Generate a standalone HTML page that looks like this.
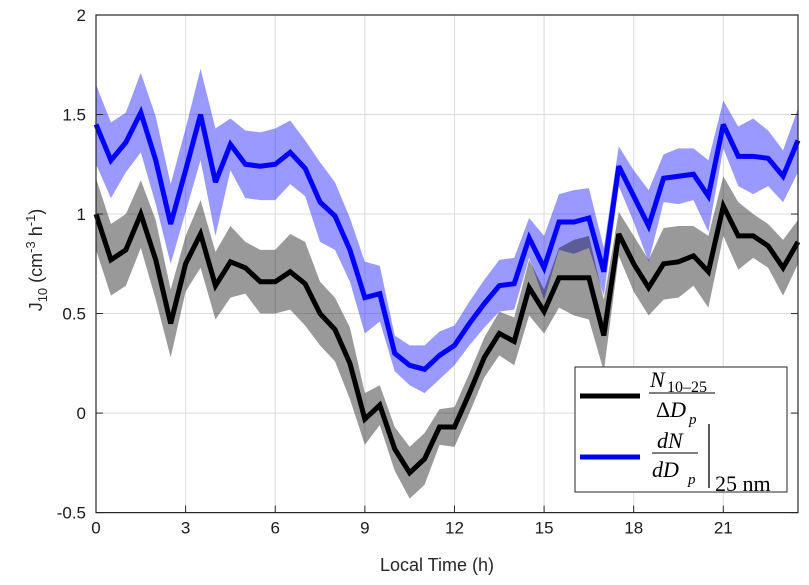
<!DOCTYPE html>
<html><head><meta charset="utf-8"><style>
body{margin:0;background:#fff;}
svg{display:block;font-family:"Liberation Sans",sans-serif;}
</style></head><body>
<svg id="chart" width="809" height="585">
<g id="grid"></g>
<g id="bands"></g>
<g id="lines"></g>
<g id="axes"></g>
<text x="437" y="571" font-size="18" text-anchor="middle" fill="#262626">Local Time (h)</text>
<text transform="translate(42,260) rotate(-90)" font-size="18" text-anchor="middle" fill="#262626">J<tspan font-size="13" dy="5">10</tspan><tspan dy="-5"> (cm</tspan><tspan font-size="13" dy="-7">-3</tspan><tspan dy="7"> h</tspan><tspan font-size="13" dy="-7">-1</tspan><tspan dy="7">)</tspan></text>
<g>
<rect x="575" y="367" width="212" height="125" fill="#fff" stroke="#262626" stroke-width="1"/>
<line x1="580" y1="396" x2="640" y2="396" stroke="#000" stroke-width="5"/>
<g font-family="'Liberation Serif',serif" fill="#000">
<text x="650" y="387" font-size="22" font-style="italic">N</text><text x="667" y="392" font-size="16">10–25</text>
<line x1="649" y1="393" x2="715" y2="393" stroke="#000" stroke-width="1"/>
<text x="656" y="417" font-size="22">Δ<tspan font-style="italic">D</tspan></text><text x="689" y="424" font-size="15" font-style="italic">p</text>
</g>
<line x1="580" y1="457" x2="640" y2="457" stroke="#0000ff" stroke-width="5"/>
<g font-family="'Liberation Serif',serif" fill="#000">
<text x="657" y="448" font-size="22" font-style="italic">dN</text>
<line x1="652" y1="453" x2="698" y2="453" stroke="#000" stroke-width="1"/>
<text x="652" y="477" font-size="22" font-style="italic">dD</text><text x="688" y="484" font-size="15" font-style="italic">p</text>
<line x1="709" y1="424" x2="709" y2="488" stroke="#000" stroke-width="1.3"/>
<text x="715" y="491" font-size="22">25 nm</text>
</g>
</g>
</svg>
<script>
const hours=[0,0.5,1,1.5,2,2.5,3,3.5,4,4.5,5,5.5,6,6.5,7,7.5,8,8.5,9,9.5,10,10.5,11,11.5,12,12.5,13,13.5,14,14.5,15,15.5,16,16.5,17,17.5,18,18.5,19,19.5,20,20.5,21,21.5,22,22.5,23,23.5];
const nSeries=[1.00,0.77,0.82,1.00,0.77,0.45,0.75,0.90,0.64,0.76,0.73,0.66,0.66,0.71,0.65,0.50,0.42,0.25,-0.03,0.04,-0.18,-0.30,-0.23,-0.07,-0.07,0.10,0.28,0.40,0.36,0.63,0.51,0.68,0.68,0.68,0.39,0.90,0.75,0.63,0.75,0.76,0.79,0.71,1.04,0.89,0.89,0.84,0.73,0.86];
const nErr=[0.18,0.18,0.18,0.17,0.20,0.17,0.14,0.17,0.17,0.18,0.13,0.16,0.16,0.19,0.21,0.16,0.16,0.18,0.13,0.10,0.11,0.13,0.13,0.09,0.10,0.10,0.10,0.11,0.12,0.14,0.11,0.15,0.19,0.21,0.18,0.11,0.14,0.14,0.18,0.18,0.15,0.18,0.15,0.17,0.11,0.11,0.14,0.11];
const dSeries=[1.45,1.27,1.36,1.51,1.27,0.95,1.22,1.50,1.16,1.35,1.25,1.24,1.25,1.31,1.23,1.06,0.99,0.82,0.58,0.60,0.30,0.24,0.22,0.29,0.34,0.45,0.55,0.64,0.65,0.88,0.73,0.96,0.96,0.98,0.71,1.24,1.09,0.94,1.18,1.19,1.20,1.09,1.45,1.29,1.29,1.28,1.19,1.37];
const dErr=[0.20,0.19,0.15,0.20,0.22,0.20,0.21,0.23,0.27,0.13,0.17,0.17,0.18,0.16,0.14,0.20,0.17,0.16,0.18,0.14,0.09,0.10,0.12,0.12,0.10,0.11,0.12,0.13,0.13,0.10,0.16,0.14,0.16,0.15,0.12,0.10,0.13,0.18,0.12,0.14,0.13,0.18,0.12,0.15,0.19,0.14,0.13,0.16];
const xTicks=[0,3,6,9,12,15,18,21];
const yTicks=[-0.5,0,0.5,1,1.5,2];
const yTickLabels=["-0.5","0","0.5","1","1.5","2"];
const X0=96,X1=798,Y0=15,Y1=512.6;
const xs=v=>X0+(v-0)/(23.5-0)*(X1-X0);
const ys=v=>Y1-(v+0.5)/2.5*(Y1-Y0);
const NS="http://www.w3.org/2000/svg";
function mk(tag,attrs,parent){const e=document.createElementNS(NS,tag);for(const k in attrs)e.setAttribute(k,attrs[k]);parent.appendChild(e);return e;}
const grid=document.getElementById('grid'),axes=document.getElementById('axes'),bands=document.getElementById('bands'),lines=document.getElementById('lines');
xTicks.forEach(t=>{
 const g=mk('line',{x1:xs(t),x2:xs(t),y1:Y0,y2:Y1,stroke:'#dcdcdc','stroke-width':1},grid);
 
 
 const tk=mk('line',{x1:xs(t),x2:xs(t),y1:Y1,y2:Y1-7,stroke:'#262626','stroke-width':1},axes);
 
 
 const tl=mk('text',{x:xs(t),y:Y1+21,'font-size':17,'text-anchor':'middle',fill:'#1a1a1a'},axes);
 tl.textContent=t;
 
 
});
yTicks.forEach((t,i)=>{
 const g=mk('line',{x1:X0,x2:X1,y1:ys(t),y2:ys(t),stroke:'#dcdcdc','stroke-width':1},grid);
 
 
 const tk=mk('line',{x1:X0,x2:X0+7,y1:ys(t),y2:ys(t),stroke:'#262626','stroke-width':1},axes);
 
 
 const tk2=mk('line',{x1:X1,x2:X1-7,y1:ys(t),y2:ys(t),stroke:'#262626','stroke-width':1},axes);
 
 
 const tl=mk('text',{x:X0-10,y:ys(t)+6,'font-size':17,'text-anchor':'end',fill:'#1a1a1a'},axes);
 tl.textContent=yTickLabels[i];
 
 
});
const frame=mk('rect',{x:X0,y:Y0,width:X1-X0,height:Y1-Y0,fill:'none',stroke:'#262626','stroke-width':1.2},axes);


function band(vals,err,color,name){
 const up=hours.map((h,i)=>xs(h)+','+ys(vals[i]+err[i]));
 const lo=hours.map((h,i)=>xs(h)+','+ys(vals[i]-err[i])).reverse();
 const p=mk('polygon',{points:up.concat(lo).join(' '),fill:color,stroke:'none'},bands);
 
 
}
function line(vals,color,name){
 const p=mk('polyline',{points:hours.map((h,i)=>xs(h)+','+ys(vals[i])).join(' '),fill:'none',stroke:color,'stroke-width':5,'stroke-linejoin':'miter','stroke-miterlimit':3},lines);
 
 
}
band(dSeries,dErr,'rgba(0,0,255,0.4)','band-dndp');
band(nSeries,nErr,'rgba(0,0,0,0.4)','band-n');
line(dSeries,'#0000ff','line-dndp');
line(nSeries,'#000000','line-n');
</script>
</body></html>
